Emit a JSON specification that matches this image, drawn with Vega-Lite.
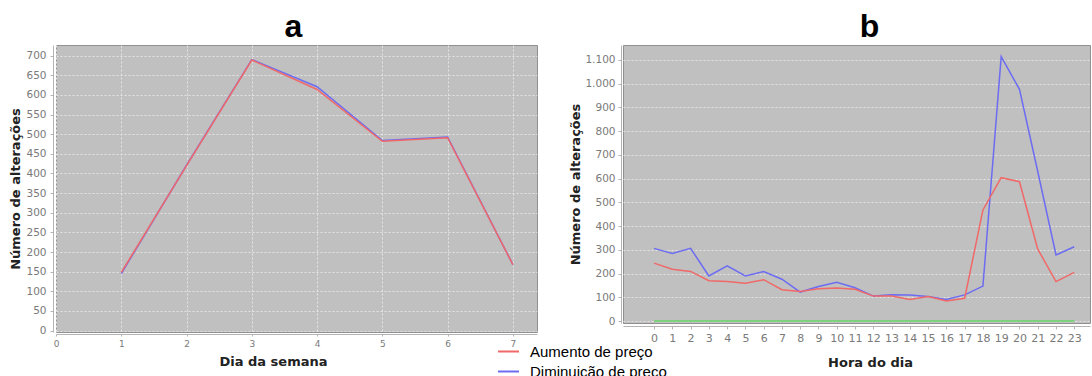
{
  "$schema": "https://vega.github.io/schema/vega-lite/v6.json",
  "autosize": "none",
  "padding": {"left": 56, "top": 45, "right": 1036, "bottom": 331},
  "background": "white",
  "spacing": 86,
  "bounds": "flush",
  "datasets": {
    "dias": [
      {"dia": 1, "serie": "Diminuição de preço", "n": 145},
      {"dia": 2, "serie": "Diminuição de preço", "n": 421},
      {"dia": 3, "serie": "Diminuição de preço", "n": 690},
      {"dia": 4, "serie": "Diminuição de preço", "n": 621},
      {"dia": 5, "serie": "Diminuição de preço", "n": 484},
      {"dia": 6, "serie": "Diminuição de preço", "n": 493},
      {"dia": 7, "serie": "Diminuição de preço", "n": 168},
      {"dia": 1, "serie": "Aumento de preço", "n": 148},
      {"dia": 2, "serie": "Aumento de preço", "n": 420},
      {"dia": 3, "serie": "Aumento de preço", "n": 689},
      {"dia": 4, "serie": "Aumento de preço", "n": 614},
      {"dia": 5, "serie": "Aumento de preço", "n": 482},
      {"dia": 6, "serie": "Aumento de preço", "n": 491},
      {"dia": 7, "serie": "Aumento de preço", "n": 168}
    ],
    "horas": [
      {"hora": 0, "serie": "Sem alteração", "n": 0},
      {"hora": 1, "serie": "Sem alteração", "n": 0},
      {"hora": 2, "serie": "Sem alteração", "n": 0},
      {"hora": 3, "serie": "Sem alteração", "n": 0},
      {"hora": 4, "serie": "Sem alteração", "n": 0},
      {"hora": 5, "serie": "Sem alteração", "n": 0},
      {"hora": 6, "serie": "Sem alteração", "n": 0},
      {"hora": 7, "serie": "Sem alteração", "n": 0},
      {"hora": 8, "serie": "Sem alteração", "n": 0},
      {"hora": 9, "serie": "Sem alteração", "n": 0},
      {"hora": 10, "serie": "Sem alteração", "n": 0},
      {"hora": 11, "serie": "Sem alteração", "n": 0},
      {"hora": 12, "serie": "Sem alteração", "n": 0},
      {"hora": 13, "serie": "Sem alteração", "n": 0},
      {"hora": 14, "serie": "Sem alteração", "n": 0},
      {"hora": 15, "serie": "Sem alteração", "n": 0},
      {"hora": 16, "serie": "Sem alteração", "n": 0},
      {"hora": 17, "serie": "Sem alteração", "n": 0},
      {"hora": 18, "serie": "Sem alteração", "n": 0},
      {"hora": 19, "serie": "Sem alteração", "n": 0},
      {"hora": 20, "serie": "Sem alteração", "n": 0},
      {"hora": 21, "serie": "Sem alteração", "n": 0},
      {"hora": 22, "serie": "Sem alteração", "n": 0},
      {"hora": 23, "serie": "Sem alteração", "n": 0},
      {"hora": 0, "serie": "Diminuição de preço", "n": 306},
      {"hora": 1, "serie": "Diminuição de preço", "n": 285},
      {"hora": 2, "serie": "Diminuição de preço", "n": 306},
      {"hora": 3, "serie": "Diminuição de preço", "n": 190},
      {"hora": 4, "serie": "Diminuição de preço", "n": 232},
      {"hora": 5, "serie": "Diminuição de preço", "n": 190},
      {"hora": 6, "serie": "Diminuição de preço", "n": 208},
      {"hora": 7, "serie": "Diminuição de preço", "n": 176},
      {"hora": 8, "serie": "Diminuição de preço", "n": 122},
      {"hora": 9, "serie": "Diminuição de preço", "n": 145},
      {"hora": 10, "serie": "Diminuição de preço", "n": 163},
      {"hora": 11, "serie": "Diminuição de preço", "n": 140},
      {"hora": 12, "serie": "Diminuição de preço", "n": 105},
      {"hora": 13, "serie": "Diminuição de preço", "n": 111},
      {"hora": 14, "serie": "Diminuição de preço", "n": 110},
      {"hora": 15, "serie": "Diminuição de preço", "n": 103},
      {"hora": 16, "serie": "Diminuição de preço", "n": 91},
      {"hora": 17, "serie": "Diminuição de preço", "n": 110},
      {"hora": 18, "serie": "Diminuição de preço", "n": 147},
      {"hora": 19, "serie": "Diminuição de preço", "n": 1114},
      {"hora": 20, "serie": "Diminuição de preço", "n": 976},
      {"hora": 21, "serie": "Diminuição de preço", "n": 630},
      {"hora": 22, "serie": "Diminuição de preço", "n": 278},
      {"hora": 23, "serie": "Diminuição de preço", "n": 313},
      {"hora": 0, "serie": "Aumento de preço", "n": 244},
      {"hora": 1, "serie": "Aumento de preço", "n": 218},
      {"hora": 2, "serie": "Aumento de preço", "n": 209},
      {"hora": 3, "serie": "Aumento de preço", "n": 170},
      {"hora": 4, "serie": "Aumento de preço", "n": 166},
      {"hora": 5, "serie": "Aumento de preço", "n": 159},
      {"hora": 6, "serie": "Aumento de preço", "n": 174},
      {"hora": 7, "serie": "Aumento de preço", "n": 132},
      {"hora": 8, "serie": "Aumento de preço", "n": 124},
      {"hora": 9, "serie": "Aumento de preço", "n": 136},
      {"hora": 10, "serie": "Aumento de preço", "n": 139},
      {"hora": 11, "serie": "Aumento de preço", "n": 134},
      {"hora": 12, "serie": "Aumento de preço", "n": 105},
      {"hora": 13, "serie": "Aumento de preço", "n": 105},
      {"hora": 14, "serie": "Aumento de preço", "n": 91},
      {"hora": 15, "serie": "Aumento de preço", "n": 103},
      {"hora": 16, "serie": "Aumento de preço", "n": 84},
      {"hora": 17, "serie": "Aumento de preço", "n": 96},
      {"hora": 18, "serie": "Aumento de preço", "n": 468},
      {"hora": 19, "serie": "Aumento de preço", "n": 604},
      {"hora": 20, "serie": "Aumento de preço", "n": 587},
      {"hora": 21, "serie": "Aumento de preço", "n": 303},
      {"hora": 22, "serie": "Aumento de preço", "n": 166},
      {"hora": 23, "serie": "Aumento de preço", "n": 205}
    ]
  },
  "resolve": {
    "scale": {"x": "independent", "y": "independent", "color": "independent"},
    "legend": {"color": "independent"}
  },
  "hconcat": [
    {
      "width": 481,
      "height": 287,
      "title": {"text": "a", "font": "Liberation Sans", "fontSize": 32, "fontWeight": "bold", "color": "#000000", "baseline": "alphabetic", "offset": 9, "dx": -3, "dy": 33},
      "data": {"name": "dias"},
      "mark": {"type": "line", "strokeWidth": 1.5},
      "encoding": {
        "x": {
          "field": "dia", "type": "quantitative",
          "scale": {"domain": [0, 7.37], "nice": false, "zero": false},
          "axis": {"values": [0, 1, 2, 3, 4, 5, 6, 7], "title": "Dia da semana", "grid": true, "offset": 2, "tickSize": 2, "labelPadding": 3, "labelFontSize": 9, "labelFlush": false, "labelOverlap": false, "titleX": 217, "titleY": 27, "titleBaseline": "middle"}
        },
        "y": {
          "field": "n", "type": "quantitative",
          "scale": {"domain": [-3.6, 727.2], "nice": false, "zero": false},
          "axis": {"values": [0, 50, 100, 150, 200, 250, 300, 350, 400, 450, 500, 550, 600, 650, 700], "title": "Número de alterações", "offset": 3, "tickSize": 3, "labelPadding": 4, "labelFontSize": 10.5, "titlePadding": 3, "labelOverlap": false, "labelFlush": false}
        },
        "color": {
          "field": "serie", "type": "nominal",
          "scale": {"domain": ["Aumento de preço", "Diminuição de preço"], "range": ["#f06868", "#6c6cf2"]},
          "legend": {"orient": "none", "legendX": 441, "legendY": 295, "title": null, "symbolType": "stroke", "symbolSize": 441, "symbolStrokeWidth": 2, "labelFont": "Liberation Sans", "labelFontSize": 15, "labelColor": "#000000", "labelOffset": 10, "rowPadding": -3, "padding": 0, "labelLimit": 300}
        }
      }
    },
    {
      "width": 467,
      "height": 278,
      "title": {"text": "b", "font": "Liberation Sans", "fontSize": 32, "fontWeight": "bold", "color": "#000000", "baseline": "alphabetic", "offset": 9, "dx": 13, "dy": 33},
      "data": {"name": "horas"},
      "mark": {"type": "line", "strokeWidth": 1.5},
      "encoding": {
        "x": {
          "field": "hora", "type": "quantitative",
          "scale": {"domain": [-1.7, 23.86], "nice": false, "zero": false},
          "axis": {"values": [0, 1, 2, 3, 4, 5, 6, 7, 8, 9, 10, 11, 12, 13, 14, 15, 16, 17, 18, 19, 20, 21, 22, 23], "title": "Hora do dia", "grid": false, "offset": 3, "tickSize": 3, "labelPadding": 3, "labelFontSize": 11, "labelFlush": false, "labelOverlap": false, "titleX": 247, "titleY": 36, "titleBaseline": "middle"}
        },
        "y": {
          "field": "n", "type": "quantitative",
          "scale": {"domain": [-8.4, 1163], "nice": false, "zero": false},
          "axis": {"values": [0, 100, 200, 300, 400, 500, 600, 700, 800, 900, 1000, 1100], "labelExpr": "replace(format(datum.value, ','), ',', '.')", "title": "Número de alterações", "offset": 2, "tickSize": 3, "labelPadding": 3, "labelFontSize": 10.5, "titlePadding": 2, "labelOverlap": false, "labelFlush": false}
        },
        "color": {
          "field": "serie", "type": "nominal",
          "scale": {"domain": ["Aumento de preço", "Diminuição de preço", "Sem alteração"], "range": ["#f06868", "#6c6cf2", "#66d466"]},
          "legend": null
        }
      }
    }
  ],
  "config": {
    "font": "DejaVu Sans",
    "view": {"fill": "#c0c0c0", "stroke": "#909090", "strokeWidth": 1},
    "axis": {
      "labelColor": "#7a7a7a",
      "labelFont": "DejaVu Sans",
      "titleFont": "DejaVu Sans",
      "titleFontSize": 13,
      "titleFontWeight": "bold",
      "titleColor": "#222222",
      "domainColor": "#b4b4b4",
      "tickColor": "#b4b4b4",
      "gridColor": "#e4e4e4",
      "gridDash": [2, 2],
      "gridWidth": 1
    }
  }
}
